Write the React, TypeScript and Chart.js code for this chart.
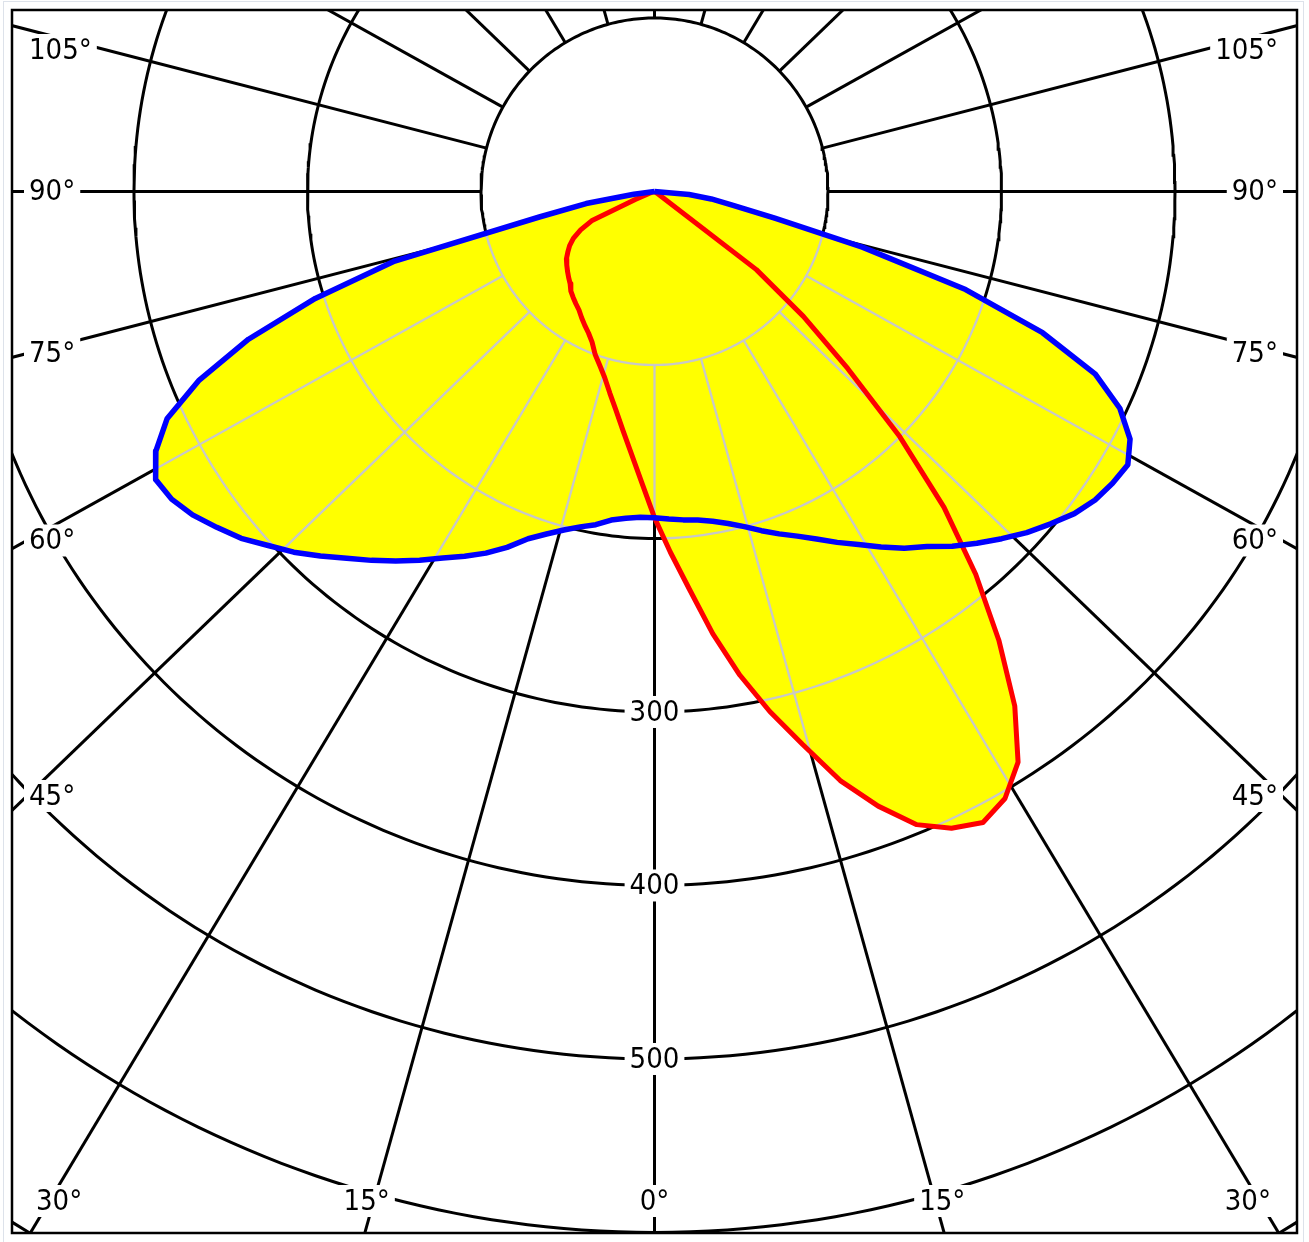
import React, { useEffect, useRef } from "react";
import { Chart, registerables } from "chart.js";

Chart.register(...registerables);

// ---- Data (luminous intensity, cd/klm) ----
const gammaAngles = [
  -90, -87.5, -85, -82.5, -80, -77.5, -75, -72.5, -70, -67.5, -65, -62.5, -60, -57.5, -55, -52.5, -50, -47.5,
  -45, -42.5, -40, -37.5, -35, -32.5, -30, -27.5, -25, -22.5, -20, -17.5, -15, -12.5, -10, -7.5, -5, -2.5,
  0,
  2.5, 5, 7.5, 10, 12.5, 15, 17.5, 20, 22.5, 25, 27.5, 30, 32.5, 35, 37.5, 40, 42.5, 45,
  47.5, 50, 52.5, 55, 57.5, 60, 62.5, 65, 67.5, 70, 72.5, 75, 77.5, 80, 82.5, 85, 87.5, 90,
];

// C0 - C180 plane (blue)
const planeC0C180 = [
  0, 0, 0, 12, 40, 68, 155, 205, 249, 284, 310, 324, 332, 330, 325, 318, 311, 302,
  294, 285, 276, 268, 260, 252, 244, 237, 230, 222, 213, 207, 202, 198, 195, 191, 189, 188,
  188,
  189, 190, 191, 193, 196, 200, 205, 210, 215, 221, 228, 235, 243, 251, 258, 267, 275, 283,
  291, 298, 305, 310, 313, 315, 309, 296, 275, 238, 188, 124, 71, 46, 33, 20, 0, 0,
];

// C90 - C270 plane (red)
const planeC90C270 = [
  0, 0, 0, 0, 0, 0, 0, 0, 3, 12, 40, 48, 54, 58, 61, 64, 66, 68,
  70, 72, 75, 77, 79, 81, 84, 87, 90, 94, 100, 105, 111, 119, 128, 139, 152, 168,
  188,
  208, 230, 257, 283, 307, 330, 356, 377, 395, 405, 410, 404, 390, 362, 326, 288, 247, 200,
  151, 112, 74, 3, 0, 0, 0, 0, 0, 0, 0, 0, 0, 0, 0, 0, 0, 0,
];

// ---- Grid ----
const ringValues = [100, 200, 300, 400, 500, 600, 700];
const ringLabelValues = [300, 400, 500];
const spokeAngles = [0, 15, 30, 45, 60, 75, 90, 105, 120, 135, 150, 165, 180, 195, 210, 225, 240, 255, 270, 285, 300, 315, 330, 345];
const sideAngleLabels = [45, 60, 75, 90, 105];
const bottomAngleLabels = [-30, -15, 0, 15, 30];

const FONT = '29px "DejaVu Sans Condensed", "DejaVu Sans", sans-serif';
// the reference draws its spokes with a slight horizontal skew of the tangent
const SPOKE_SKEW = 1.038;

const rad = (d: number) => (d * Math.PI) / 180;
const deg = (r: number) => (r * 180) / Math.PI;
const toXY = (gamma: number, value: number) => ({
  x: value * Math.sin(rad(gamma)),
  y: -value * Math.cos(rad(gamma)),
});
const spokeDir = (a: number) => deg(Math.atan2(SPOKE_SKEW * Math.sin(rad(a)), Math.cos(rad(a))));

function gridLines() {
  const lines: { x: number; y: number }[][] = [];
  ringValues.forEach((r) => {
    const pts: { x: number; y: number }[] = [];
    for (let t = 0; t <= 360; t += 1) pts.push(toXY(t, r));
    lines.push(pts);
  });
  spokeAngles.forEach((a) => {
    const d = spokeDir(a);
    lines.push([toXY(d, ringValues[0]), toXY(d, 1000)]);
  });
  return lines;
}

const framePlugin = {
  id: "frameAndLabels",
  beforeDatasetDraw(chart: any, args: any) {
    const ds = chart.data.datasets[args.index];
    if (!ds.clipToFill) return;
    const ctx = chart.ctx;
    ctx.save();
    ctx.beginPath();
    chart.data.datasets.forEach((d: any, i: number) => {
      if (!d.isFill) return;
      const pts = chart.getDatasetMeta(i).data;
      pts.forEach((p: any, j: number) => (j === 0 ? ctx.moveTo(p.x, p.y) : ctx.lineTo(p.x, p.y)));
      ctx.closePath();
    });
    ctx.clip();
  },
  afterDatasetDraw(chart: any, args: any) {
    const ds = chart.data.datasets[args.index];
    if (ds.clipToFill) chart.ctx.restore();
  },
  afterDatasetsDraw(chart: any) {
    const { ctx, chartArea: area, scales } = chart;
    const xs = scales.x;
    const ys = scales.y;
    const cx = xs.getPixelForValue(0);
    const cy = ys.getPixelForValue(0);
    ctx.save();
    ctx.font = FONT;
    ctx.textBaseline = "middle";

    const box = (text: string, px: number, py: number, align: "left" | "right" | "center") => {
      const w = ctx.measureText(text).width;
      let left = px;
      if (align === "center") left = px - w / 2;
      if (align === "right") left = px - w;
      ctx.fillStyle = "#ffffff";
      ctx.fillRect(left - 5, py - 16, w + 10, 32);
      ctx.fillStyle = "#000000";
      ctx.textAlign = "left";
      ctx.fillText(text, left, py + 1);
    };

    ringLabelValues.forEach((v) => box(String(v), cx, ys.getPixelForValue(-v), "center"));

    sideAngleLabels.forEach((a) => {
      [-1, 1].forEach((side) => {
        const edgeX = side < 0 ? area.left + 38 : area.right - 38;
        const d = Math.abs(edgeX - cx);
        let ly = cy + (d * Math.cos(rad(a))) / Math.sin(rad(a));
        ly = Math.max(area.top + 40, Math.min(area.bottom - 32, ly));
        if (side < 0) box(`${a}°`, area.left + 17, ly, "left");
        else box(`${a}°`, area.right - 19, ly, "right");
      });
    });

    bottomAngleLabels.forEach((a) => {
      const text = `${Math.abs(a)}°`;
      const w = ctx.measureText(text).width;
      const ly = area.bottom - 32;
      let lx = cx + (ly - cy) * Math.tan(rad(spokeDir(a))) + Math.sign(a) * 7;
      lx = Math.max(area.left + 24 + w / 2, Math.min(area.right - 26 - w / 2, lx));
      box(text, lx, ly, "center");
    });
    ctx.restore();
  },
  afterDraw(chart: any) {
    const { ctx, chartArea: area } = chart;
    ctx.save();
    ctx.strokeStyle = "#000000";
    ctx.lineWidth = 2.5;
    ctx.strokeRect(area.left, area.top, area.right - area.left, area.bottom - area.top);
    ctx.strokeStyle = "#dde2ea";
    ctx.lineWidth = 1;
    ctx.strokeRect(3.5, 1.5, chart.width - 9, chart.height + 10);
    ctx.restore();
  },
};

export default function App() {
  const canvasRef = useRef<HTMLCanvasElement | null>(null);

  useEffect(() => {
    if (!canvasRef.current) return;
    const grid = gridLines();
    const blueShape = gammaAngles.map((g, i) => toXY(g, planeC0C180[i]));
    const redShape = gammaAngles.map((g, i) => toXY(g, planeC90C270[i]));

    const base = { showLine: true, pointRadius: 0, pointHoverRadius: 0, fill: false, clip: 0 };

    const datasets: any[] = [
      { ...base, label: "C0 - C180", data: blueShape, borderColor: "#0000ff", borderWidth: 5.5, borderJoinStyle: "round", order: 0 },
      { ...base, label: "C90 - C270", data: redShape, borderColor: "#ff0000", borderWidth: 5, borderJoinStyle: "round", order: 1 },
      ...grid.map((pts) => ({ ...base, data: pts, borderColor: "#c8c8c8", borderWidth: 2.3, order: 2, clipToFill: true })),
      { ...base, data: blueShape, fill: "shape", backgroundColor: "#ffff00", borderColor: "rgba(0,0,0,0)", borderWidth: 0, order: 3, isFill: true },
      { ...base, data: redShape, fill: "shape", backgroundColor: "#ffff00", borderColor: "rgba(0,0,0,0)", borderWidth: 0, order: 3, isFill: true },
      ...grid.map((pts) => ({ ...base, data: pts, borderColor: "#000000", borderWidth: 3, order: 5 })),
    ];

    const chart = new Chart(canvasRef.current, {
      type: "scatter",
      data: { datasets },
      options: {
        responsive: false,
        animation: false,
        devicePixelRatio: 1,
        events: [],
        layout: { padding: { left: 12, top: 10, right: 12, bottom: 9 } },
        scales: {
          x: { type: "linear", min: -370.3, max: 370.3, display: false },
          y: { type: "linear", min: -600.3, max: 104.6, display: false },
        },
        plugins: { legend: { display: false }, tooltip: { enabled: false } },
      } as any,
      plugins: [framePlugin as any],
    });
    return () => chart.destroy();
  }, []);

  return (
    <div style={{ position: "absolute", left: 0, top: 0, width: 1309, height: 1242, background: "#ffffff", overflow: "hidden" }}>
      <canvas ref={canvasRef} width={1309} height={1242} style={{ display: "block" }} />
    </div>
  );
}
